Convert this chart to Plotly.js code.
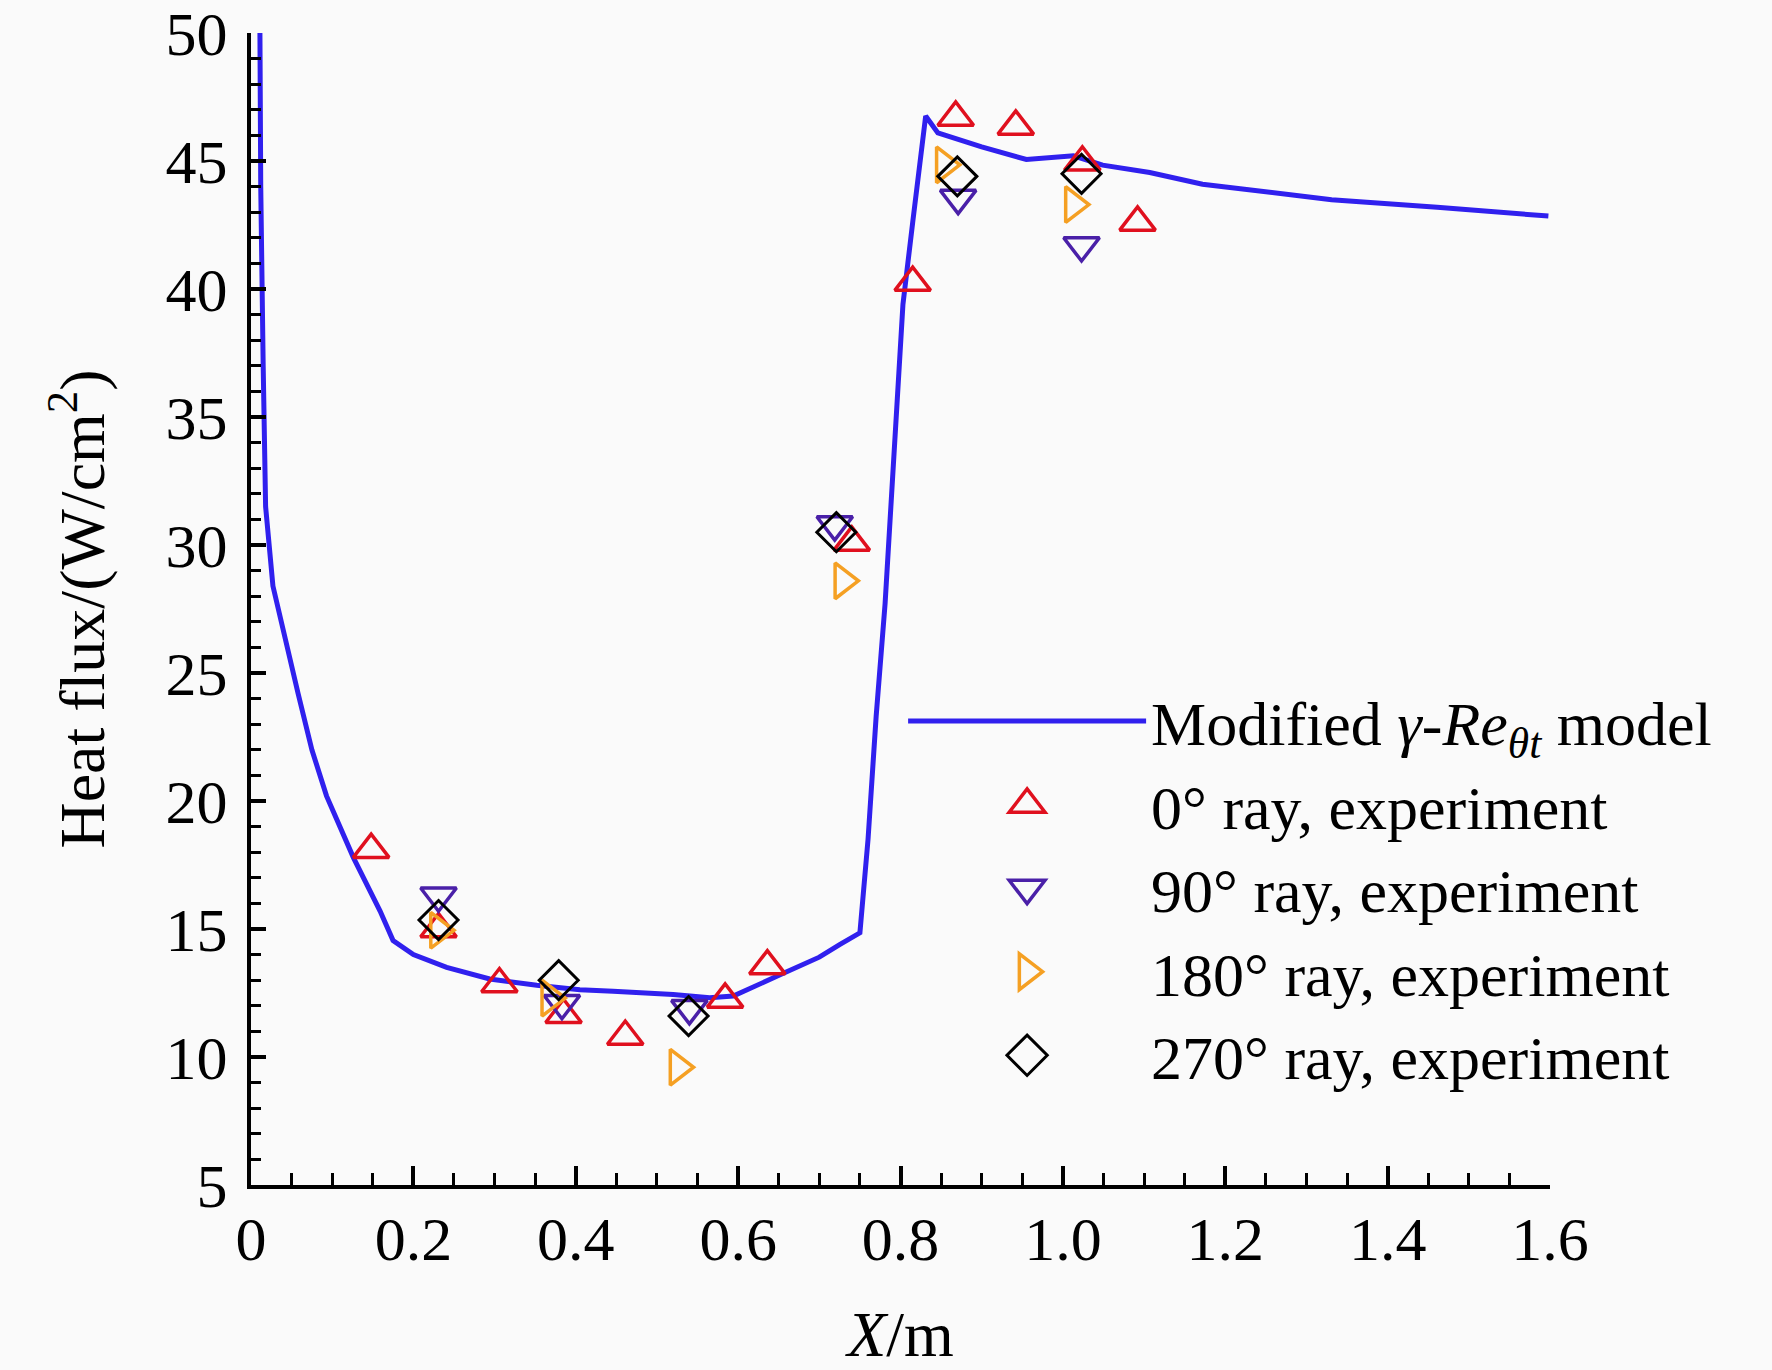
<!DOCTYPE html>
<html>
<head>
<meta charset="utf-8">
<script src="https://cdn.plot.ly/plotly-3.0.1.min.js"></script>
<style>html,body{margin:0;padding:0;background:#fafafa;}</style>
</head>
<body>
<div id="chart" style="width:1772px;height:1370px;"></div>
<script>
// Model curve
const modelX = [0.011,0.012,0.015,0.018,0.027,0.040,0.058,0.075,0.093,0.126,0.159,0.175,0.200,0.241,0.294,0.352,0.405,0.446,0.520,0.565,0.594,0.651,0.700,0.725,0.750,0.760,0.770,0.781,0.792,0.803,0.815,0.831,0.846,0.900,0.955,1.013,1.049,1.107,1.172,1.250,1.331,1.461,1.598];
const modelY = [50.0,44.0,37.0,31.5,28.4,26.6,24.2,22.0,20.2,17.8,15.7,14.55,14.0,13.5,13.05,12.8,12.63,12.57,12.44,12.31,12.38,13.2,13.9,14.39,14.85,18.5,23.3,27.7,33.3,39.4,42.6,46.76,46.1,45.55,45.06,45.2,44.84,44.55,44.09,43.8,43.49,43.19,42.85];

// Experiments
const ray0X = [0.148,0.231,0.306,0.385,0.461,0.584,0.636,0.740,0.815,0.868,0.942,1.024,1.092];
const ray0Y = [18.1,15.0,12.85,11.65,10.8,12.25,13.55,30.1,40.25,46.7,46.35,44.95,42.6];
const ray90X = [0.231,0.383,0.540,0.719,0.871,1.023];
const ray90Y = [16.3,12.1,11.9,30.8,43.55,41.7];
const ray180X = [0.231,0.368,0.526,0.729,0.854,1.013];
const ray180Y = [14.95,12.3,9.6,28.6,44.85,43.3];
const ray270X = [0.231,0.379,0.539,0.721,0.870,1.023];
const ray270Y = [15.35,13.0,11.6,30.5,44.4,44.5];

const xTickVals = [0,0.2,0.4,0.6,0.8,1.0,1.2,1.4,1.6];
const xTickText = ['0','0.2','0.4','0.6','0.8','1.0','1.2','1.4','1.6'];
const yTickVals = [5,10,15,20,25,30,35,40,45,50];
const yTickText = ['5','10','15','20','25','30','35','40','45','50'];

const FONT = 'Liberation Serif, Times New Roman, serif';
const MS = 31;

const traces = [
  {x: modelX, y: modelY, mode: 'lines', name: 'Modified <i>γ</i>-<i>Re</i><sub><i>θt</i></sub> model',
   line: {color: '#3020EE', width: 5}},
  {x: ray0X, y: ray0Y, mode: 'markers', name: '0° ray, experiment',
   marker: {symbol: 'triangle-up-open', size: MS, color: '#E0101E', line: {width: 3.5, color: '#E0101E'}}},
  {x: ray90X, y: ray90Y, mode: 'markers', name: '90° ray, experiment',
   marker: {symbol: 'triangle-down-open', size: MS, color: '#4A20A8', line: {width: 3.5, color: '#4A20A8'}}},
  {x: ray180X, y: ray180Y, mode: 'markers', name: '180° ray, experiment',
   marker: {symbol: 'triangle-right-open', size: MS, color: '#F5A023', line: {width: 3.5, color: '#F5A023'}}},
  {x: ray270X, y: ray270Y, mode: 'markers', name: '270° ray, experiment',
   marker: {symbol: 'diamond-open', size: MS - 1, color: '#000000', line: {width: 3, color: '#000000'}}}
];

const layout = {
  width: 1772, height: 1370,
  paper_bgcolor: '#fafafa', plot_bgcolor: '#fafafa',
  margin: {l: 251, r: 222, t: 33, b: 185},
  font: {family: FONT, size: 62, color: '#000'},
  showlegend: true,
  legend: {x: 0.502, y: 0.4435, xanchor: 'left', yanchor: 'top', bgcolor: 'rgba(0,0,0,0)',
           font: {family: FONT, size: 62, color: '#000'}, itemwidth: 238, tracegroupgap: 0},
  xaxis: {range: [0, 1.6], showline: true, linewidth: 4, linecolor: '#000', mirror: false,
          showgrid: false, zeroline: false, ticks: 'inside', ticklen: 19, tickwidth: 4, tickcolor: '#000',
          tickvals: xTickVals, ticktext: xTickText, ticklabelstandoff: -3, ticklabeloverflow: 'allow',
          tickfont: {family: FONT, size: 62, color: '#000'},
          minor: {dtick: 0.05, ticks: 'inside', ticklen: 12, tickwidth: 3, tickcolor: '#000', showgrid: false},
          title: {text: '<i>X</i>/m', font: {family: FONT, size: 64, color: '#000'}, standoff: 48}},
  yaxis: {range: [5, 50], showline: true, linewidth: 4, linecolor: '#000', mirror: false,
          showgrid: false, zeroline: false, ticks: 'inside', ticklen: 15, tickwidth: 4, tickcolor: '#000',
          tickvals: yTickVals, ticktext: yTickText, ticklabelstandoff: 7, ticklabeloverflow: 'allow',
          tickfont: {family: FONT, size: 62, color: '#000'},
          minor: {dtick: 1, ticks: 'inside', ticklen: 10, tickwidth: 3, tickcolor: '#000', showgrid: false},
          title: {text: 'Heat flux/(W/cm<sup>2</sup>)', font: {family: FONT, size: 64, color: '#000'}, standoff: 41}}
};

Plotly.newPlot('chart', traces, layout, {displayModeBar: false, staticPlot: true}).then(function (gd) {
  // Plotly caps legend marker size at 16 px; enlarge legend symbols to match the plot markers
  const k = MS / 16;
  gd.querySelectorAll('.legend .legendpoints path.scatterpts').forEach(function (p) {
    const t = p.getAttribute('transform') || '';
    p.setAttribute('transform', t + ' scale(' + k + ')');
    const sw = parseFloat(p.style.strokeWidth) || 3;
    p.style.strokeWidth = (sw / k) + 'px';
  });
});
</script>
</body>
</html>
